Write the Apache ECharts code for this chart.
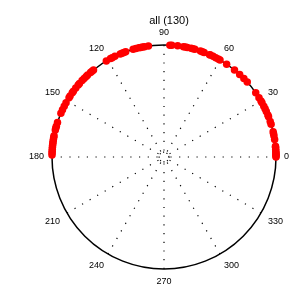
<!DOCTYPE html>
<html><head><meta charset="utf-8">
<script src="https://cdn.jsdelivr.net/npm/echarts@6/dist/echarts.min.js"></script>
<style>html,body{margin:0;padding:0;background:#fff}#c{width:300px;height:293px}</style>
</head><body><div id="c"></div>
<script>
var titleText = 'all (130)';
var angleTicks = [0, 30, 60, 90, 120, 150, 180, 210, 240, 270, 300, 330];
var angles = [0, 0.5, 1, 1.5, 2, 3, 4, 5, 5.5,
  9, 11, 12, 13, 14, 15.5, 17, 18.5, 20, 21, 22,
  24, 25.5, 27, 28, 29, 30, 31, 32, 33.5, 35,
  42, 43, 44.5, 47.5,
  51, 52, 53.5, 55, 56,
  60, 61, 62.5, 64, 65.5, 66,
  69, 70, 71,
  74, 75, 76,
  78, 79, 80, 81, 82, 83, 84, 84.5, 85, 86,
  87, 88, 89, 90, 91, 92, 94, 95, 96,
  97, 98, 99, 100, 101, 102, 103, 104.5, 106,
  110, 111, 112, 113,
  116, 117.5, 118.5,
  121, 122, 123, 124, 125, 126, 127,
  128, 129, 130, 131, 133, 134, 135.5, 137,
  139, 140, 142, 143, 144, 145, 146, 147, 148, 149,
  151, 153, 155, 157,
  162, 164, 165, 166,
  169, 170, 171, 172, 173, 174, 175, 176, 177, 178, 179];
var radii = [1, 1, 1, 1, 1, 1, 1, 1, 1,
  1, 1, 1, 1, 1.01, 1.01, 1, 1, 1.01, 1, 1,
  1, 1, 1, 1.01, 1, 1, 1.01, 1, 1.02, 1,
  1, 1.01, 1, 1,
  1, 1.02, 1.05, 1.01, 1,
  1, 1, 1, 1, 1, 1,
  1, 1, 1,
  1, 1, 1,
  1, 1, 1, 1.01, 1.01, 1, 1.01, 1.01, 1.01, 1,
  1, 1.01, 1.01, 1.01, 1.02, 1.03, 1.05, 1.07, 1.04,
  1.01, 1, 1.01, 1, 1, 1, 1, 1, 1,
  1, 1, 1, 1,
  1, 1, 1,
  1, 1.01, 1.03, 1.04, 1.05, 1.04, 1.03,
  1.01, 1, 1, 1, 1, 1, 1, 1,
  1, 1, 1, 1.01, 1, 1, 1.01, 1, 1, 1.01,
  1, 1, 1, 1,
  1, 1, 1, 1,
  1, 1, 1, 1, 1, 1, 1, 1, 1, 1, 1];
var innerRing = [0, 15, 30, 45, 60, 75, 90, 105, 120, 135, 150, 165, 180,
  195, 210, 225, 240, 255, 270, 285, 300, 315, 330, 345, 360];

var data = angles.map(function (a, i) { return [radii[i], a]; });
var chart = echarts.init(document.getElementById('c'), null, {renderer: 'canvas'});
chart.setOption({
  animation: false,
  title: {text: titleText, left: 164, top: 10, textAlign: 'center',
    textStyle: {fontSize: 11, fontWeight: 'normal', color: '#000', fontFamily: 'Liberation Sans'}},
  polar: {center: [164, 157], radius: 112},
  angleAxis: {
    type: 'value', min: 0, max: 360, interval: 30, startAngle: 0, clockwise: false,
    axisLine: {lineStyle: {color: '#000', width: 1.5}},
    axisTick: {show: false},
    axisLabel: {margin: 8, fontSize: 9, color: '#000', fontFamily: 'Liberation Sans',
      formatter: function (v) { return angleTicks.indexOf(v) >= 0 ? String(v) : ''; }},
    splitLine: {show: true, lineStyle: {color: '#000', width: 1.2, type: [1.2, 7.5]}}
  },
  radiusAxis: {
    type: 'value', min: 0, max: 1, axisLine: {show: false}, axisTick: {show: false},
    axisLabel: {show: false}, splitLine: {show: false}
  },
  series: [
    {type: 'line', coordinateSystem: 'polar', symbol: 'none', silent: true,
      data: innerRing.map(function (a) { return [0.045, a]; }),
      lineStyle: {color: '#000', width: 1.2, type: [1.2, 2.6]}},
    {type: 'scatter', coordinateSystem: 'polar', symbol: 'circle', symbolSize: 7.5,
      itemStyle: {color: '#ff0000', opacity: 1}, data: data}
  ]
});
</script></body></html>
